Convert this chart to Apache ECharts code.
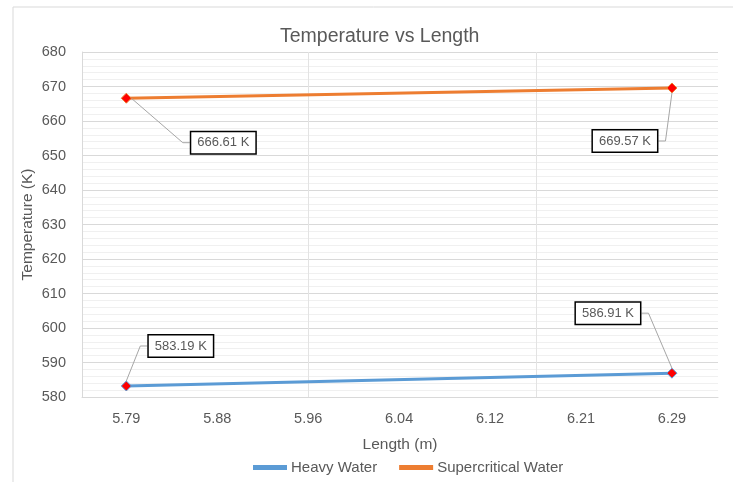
<!DOCTYPE html>
<html>
<head>
<meta charset="utf-8">
<script src="https://cdn.jsdelivr.net/npm/echarts@6/dist/echarts.min.js"></script>
<style>
html,body{margin:0;padding:0;background:#fff;}
#chart{width:733px;height:482px;}
</style>
</head>
<body>
<div id="chart"></div>
<script>
// ---- data ----
const lengths = [5.79, 6.29];
const heavyWater = [583.19, 586.91];
const supercriticalWater = [666.61, 669.57];
const seriesNames = ['Heavy Water', 'Supercritical Water'];
const xTickLabels = ['5.79', '5.88', '5.96', '6.04', '6.12', '6.21', '6.29'];
const xMajorGrid = [5.9564, 6.1653];
const yMin = 580, yMax = 680, yStep = 10;
const xMin = 5.7494, xMax = 6.3322;

const xFirst = parseFloat(xTickLabels[0]);
const xLast = parseFloat(xTickLabels[xTickLabels.length - 1]);
const xTickValues = xTickLabels.map((_, i) => xFirst + i * (xLast - xFirst) / (xTickLabels.length - 1));

const FONT = '"Liberation Sans", Arial, sans-serif';
const GRAY = '#595959';
const BLUE = '#5B9BD5';
const ORANGE = '#ED7D31';

function pairs(xs, ys) { return xs.map((x, i) => [x, ys[i]]); }

function labelCfg() {
  return {
    show: true,
    position: 'inside',
    formatter: p => p.value[1].toFixed(2) + ' K',
    color: GRAY,
    fontFamily: FONT,
    fontSize: 13,
    backgroundColor: '#ffffff',
    borderColor: '#000000',
    borderWidth: 1.5,
    padding: [4, 6]
  };
}
const labelLineCfg = { show: true, length2: 7, lineStyle: { color: '#a6a6a6', width: 1 } };

const chart = echarts.init(document.getElementById('chart'), null, { renderer: 'canvas' });
chart.setOption({
  animation: false,
  backgroundColor: '#ffffff',
  textStyle: { fontFamily: FONT },
  graphic: [{
    type: 'rect', z: -10, silent: true,
    shape: { x: 13, y: 7, width: 800, height: 600 },
    style: { fill: 'none', stroke: '#d9d9d9', lineWidth: 1 }
  }],
  title: {
    text: 'Temperature vs Length',
    left: 275, top: 22,
    textStyle: { fontFamily: FONT, fontSize: 19.5, fontWeight: 'normal', color: GRAY }
  },
  legend: {
    left: 248, top: 455,
    icon: 'rect', itemWidth: 32, itemHeight: 3, itemGap: 22,
    textStyle: { fontFamily: FONT, fontSize: 15, color: GRAY },
    data: [
      { name: seriesNames[0], itemStyle: { color: BLUE } },
      { name: seriesNames[1], itemStyle: { color: ORANGE } }
    ]
  },
  grid: { left: 82, top: 52, right: 15, bottom: 85 },
  xAxis: [{
    type: 'value', min: xMin, max: xMax,
    name: 'Length (m)', nameLocation: 'middle', nameGap: 40, nameMoveOverlap: false,
    nameTextStyle: { fontFamily: FONT, fontSize: 15.5, color: GRAY },
    axisLine: { show: true, lineStyle: { color: '#d9d9d9', width: 1 } },
    axisTick: { show: false },
    splitLine: { show: false },
    axisLabel: {
      customValues: xTickValues,
      margin: 14,
      fontFamily: FONT, fontSize: 14.5, color: GRAY,
      formatter: v => {
        let best = 0;
        xTickValues.forEach((t, i) => { if (Math.abs(t - v) < Math.abs(xTickValues[best] - v)) best = i; });
        return xTickLabels[best];
      }
    }
  }, {
    type: 'value', min: xMin, max: xMax, position: 'bottom',
    axisLine: { show: false },
    axisLabel: { show: false },
    axisTick: { show: false, customValues: xMajorGrid },
    splitLine: { show: true, lineStyle: { color: '#e3e3e3', width: 1 } }
  }],
  yAxis: {
    type: 'value', min: yMin, max: yMax, interval: yStep,
    name: 'Temperature (K)', nameLocation: 'middle', nameGap: 46, nameMoveOverlap: false,
    nameTextStyle: { fontFamily: FONT, fontSize: 15.5, color: GRAY },
    axisLine: { show: true, lineStyle: { color: '#d9d9d9' } },
    axisTick: { show: false },
    axisLabel: { margin: 16, fontFamily: FONT, fontSize: 14.5, color: GRAY },
    splitLine: { show: true, lineStyle: { color: '#d9d9d9', width: 1 } },
    minorTick: { show: false, splitNumber: 5 },
    minorSplitLine: { show: true, lineStyle: { color: '#f0f0f0', width: 1 } }
  },
  series: [{
    name: seriesNames[0], type: 'line',
    data: pairs(lengths, heavyWater),
    symbol: 'diamond', symbolSize: 10,
    lineStyle: { color: BLUE, width: 3 },
    itemStyle: { color: '#ff0000', borderColor: BLUE, borderWidth: 1 },
    label: labelCfg(),
    labelLine: labelLineCfg,
    labelLayout: p => p.dataIndex === 0 ? { dx: 54.5, dy: -40 } : { dx: -64, dy: -60 }
  }, {
    name: seriesNames[1], type: 'line',
    data: pairs(lengths, supercriticalWater),
    symbol: 'diamond', symbolSize: 10,
    lineStyle: { color: ORANGE, width: 3 },
    itemStyle: { color: '#ff0000', borderColor: ORANGE, borderWidth: 1 },
    label: labelCfg(),
    labelLine: labelLineCfg,
    labelLayout: p => p.dataIndex === 0 ? { dx: 97, dy: 44.5 } : { dx: -47, dy: 53 }
  }]
});
</script>
</body>
</html>
